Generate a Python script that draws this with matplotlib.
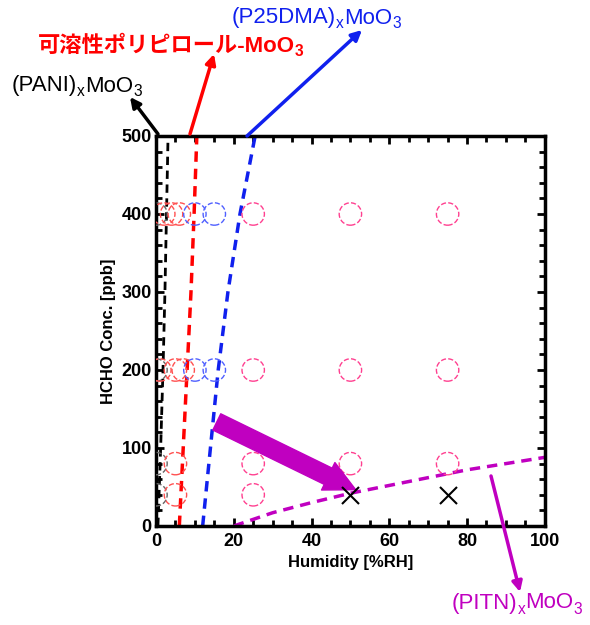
import numpy as np
import matplotlib.pyplot as plt
from matplotlib.ticker import MultipleLocator

plt.rcParams['font.family'] = ['Liberation Sans', 'Noto Sans CJK JP', 'DejaVu Sans']

# measured points (humidity %RH, HCHO ppb)
pani_x = [0, 0, 0, 0]
pani_y = [400, 200, 80, 40]
ppy_x = [2, 4, 6, 1, 5, 7, 5, 5]
ppy_y = [400, 400, 400, 200, 200, 200, 80, 40]
p25_x = [10, 15, 10, 15]
p25_y = [400, 400, 200, 200]
pitn_x = [25, 50, 75, 25, 50, 75, 25, 50, 75, 25]
pitn_y = [400, 400, 400, 200, 200, 200, 80, 80, 80, 40]
cross_x = [50, 75]
cross_y = [40, 40]

# boundary lines
pani_line_x = [0.5, 1.2, 1.8, 2.3, 2.7, 3.1]
pani_line_y = [0, 100, 200, 300, 400, 500]
ppy_line_x = [6.0, 7.0, 8.0, 9.0, 9.8, 10.5]
ppy_line_y = [0, 100, 200, 300, 400, 500]
p25_line_x = [12.0, 14.0, 16.0, 18.5, 21.6, 25.5]
p25_line_y = [0, 100, 200, 300, 400, 500]
pitn_line_x = [20, 30, 40, 50, 60, 70, 80, 90, 100]
pitn_line_y = [0, 17, 30, 42, 52, 62, 72, 80, 88]

fig = plt.figure(figsize=(5.9, 6.25), dpi=100)
ax = fig.add_axes([0.2644, 0.1584, 0.659, 0.624])

ax.plot(pani_line_x, pani_line_y, '--', color='black', lw=2, dashes=(3, 2))
ax.plot(ppy_line_x, ppy_line_y, '--', color='red', lw=2.5, dashes=(3, 2))
ax.plot(p25_line_x, p25_line_y, '--', color='#1020ee', lw=2.5, dashes=(3, 2))
ax.plot(pitn_line_x, pitn_line_y, '--', color='#c000c0', lw=2.5, dashes=(3, 2))

ms = 260
ax.scatter(pani_x, pani_y, s=ms, facecolors='none', edgecolors='#666666', linestyles='--', lw=1, zorder=3)
ax.scatter(ppy_x, ppy_y, s=ms, facecolors='none', edgecolors='#ff5050', linestyles='--', lw=1, zorder=3)
ax.scatter(p25_x, p25_y, s=ms, facecolors='none', edgecolors='#5060ff', linestyles='--', lw=1, zorder=3)
ax.scatter(pitn_x, pitn_y, s=ms, facecolors='none', edgecolors='#ff4090', linestyles='--', lw=1, zorder=3)
ax.scatter(cross_x, cross_y, s=150, marker='x', color='black', lw=1.5, zorder=4)

# thick arrow
ax.annotate('', xy=(52, 45), xytext=(15, 135),
            arrowprops=dict(arrowstyle='simple,head_width=1.1,head_length=1.1,tail_width=0.65',
                            color='#c000c0', mutation_scale=20))

ax.set_xlim(0, 100)
ax.set_ylim(0, 500)
ax.xaxis.set_major_locator(MultipleLocator(20))
ax.xaxis.set_minor_locator(MultipleLocator(5))
ax.yaxis.set_major_locator(MultipleLocator(100))
ax.yaxis.set_minor_locator(MultipleLocator(20))
ax.tick_params(which='both', direction='in', top=True, right=True, width=2)
ax.tick_params(which='major', length=6, labelsize=13)
ax.tick_params(axis='x', which='major', pad=5)
ax.tick_params(axis='y', which='major', pad=3)
ax.tick_params(which='minor', length=4)
for lab in ax.get_xticklabels() + ax.get_yticklabels():
    lab.set_fontweight('bold')
for s in ax.spines.values():
    s.set_linewidth(2.5)

ax.set_xlabel('Humidity [%RH]', fontsize=12, fontweight='bold', labelpad=4)
ax.set_ylabel('HCHO Conc. [ppb]', fontsize=12, fontweight='bold', labelpad=4)


def px(x, y):
    return (x / 590, 1 - y / 625)


arr = dict(arrowstyle='-|>', lw=2.5, mutation_scale=15, shrinkA=0, shrinkB=0)
for (x0, y0, x1, y1, c) in [(158, 134, 130, 97, 'black'), (190, 134, 214, 54, 'red'),
                            (247, 136, 362, 30, '#1020ee'), (491, 476, 520, 592, '#c000c0')]:
    ax.annotate('', xy=px(x1, y1), xytext=px(x0, y0), xycoords='figure fraction',
                textcoords='figure fraction', arrowprops=dict(arr, color=c), annotation_clip=False)

renderer = fig.canvas.get_renderer()


def label(x, y, parts, color, size=16, weight='normal'):
    # parts: list of (text, is_subscript); drawn one after another in pixel coords
    cx = x
    for s, sub in parts:
        fs = size * 0.7 if sub else size
        yy = y + (6 if sub else 0)
        t = fig.text(cx / 590, 1 - yy / 625, s, fontsize=fs, color=color, fontweight=weight,
                     va='center', ha='left',
                     family=['Liberation Sans', 'Noto Sans CJK JP', 'DejaVu Sans'])
        bb = t.get_window_extent(renderer)
        cx += bb.width


label(12, 86, [('(PANI)', False), ('x', True), ('MoO', False), ('3', True)], 'black')
label(38, 46, [('可溶性ポリピロール-MoO', False), ('3', True)], 'red', weight='bold')
label(232, 18, [('(P25DMA)', False), ('x', True), ('MoO', False), ('3', True)], '#1020ee')
label(452, 603, [('(PITN)', False), ('x', True), ('MoO', False), ('3', True)], '#c000c0')

fig.savefig('out.png', dpi=100)
